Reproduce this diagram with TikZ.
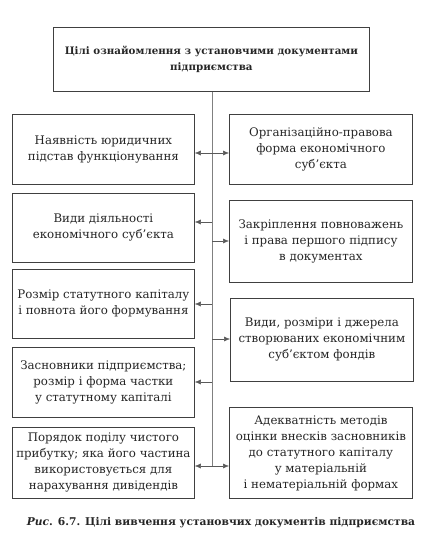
\documentclass[tikz,border=0pt]{standalone}
\usepackage{fontspec}
\setmainfont{DejaVu Serif}
\usetikzlibrary{arrows.meta}

\begin{document}
\begin{tikzpicture}[x=1pt,y=-1pt,
  box/.style={draw=black!75, line width=0.8pt, anchor=north west, align=center,
    inner sep=2pt, text=black!85, font=\fontsize{11.8}{16}\selectfont},
  tip/.style={-{Latex[length=6pt,width=5pt]}, draw=black!65, line width=0.5pt},
  trunk/.style={draw=black!50, line width=0.6pt}]
\useasboundingbox (0,0) rectangle (447,543);
% top box
\node[box, minimum width=316pt, minimum height=64pt, font=\fontsize{10.3}{16}\selectfont\bfseries] (top) at (53,27)
  {Цілі ознайомлення з установчими документами\\підприємства};
% left column
\node[box, minimum width=182pt, minimum height=70pt] (l1) at (12,114) {Наявність юридичних\\підстав функціонування};
\node[box, minimum width=182pt, minimum height=69pt] (l2) at (12,193) {Види діяльності\\економічного суб'єкта};
\node[box, minimum width=182pt, minimum height=69pt] (l3) at (12,269) {Розмір статутного капіталу\\і повнота його формування};
\node[box, minimum width=182pt, minimum height=70pt] (l4) at (12,347) {Засновники підприємства;\\розмір і форма частки\\у статутному капіталі};
\node[box, minimum width=182pt, minimum height=71pt] (l5) at (12,427) {Порядок поділу чистого\\прибутку; яка його частина\\використовується для\\нарахування дивідендів};
% right column
\node[box, minimum width=183pt, minimum height=70pt] (r1) at (229,114) {Організаційно-правова\\форма економічного\\суб'єкта};
\node[box, minimum width=183pt, minimum height=82pt] (r2) at (229,200) {Закріплення повноважень\\і права першого підпису\\в документах};
\node[box, minimum width=183pt, minimum height=83pt] (r3) at (230,298) {Види, розміри і джерела\\створюваних економічним\\суб'єктом фондів};
\node[box, minimum width=183pt, minimum height=91pt] (r4) at (229,407) {Адекватність методів\\оцінки внесків засновників\\до статутного капіталу\\у матеріальній\\і нематеріальній формах};
% trunk and branches
\coordinate (t1) at (212,153);
\coordinate (t2) at (212,222);
\coordinate (t3) at (212,241);
\coordinate (t4) at (212,304);
\coordinate (t5) at (212,339);
\coordinate (t6) at (212,382);
\coordinate (t7) at (212,466);
\draw[trunk] (top.south -| t1) -- (t7);
\draw[tip] (t1) -- (t1 -| l1.east);
\draw[tip] (t1) -- (t1 -| r1.west);
\draw[tip] (t2) -- (t2 -| l2.east);
\draw[tip] (t3) -- (t3 -| r2.west);
\draw[tip] (t4) -- (t4 -| l3.east);
\draw[tip] (t5) -- (t5 -| r3.west);
\draw[tip] (t6) -- (t6 -| l4.east);
\draw[tip] (t7) -- (t7 -| l5.east);
\draw[tip] (t7) -- (t7 -| r4.west);
% caption
\node[text=black!85, font=\fontsize{10.7}{14}\selectfont] (cap) at (221,523)
  {\textbf{\textit{Рис}. 6.7. Цілі вивчення установчих документів підприємства}};
\end{tikzpicture}
\end{document}
